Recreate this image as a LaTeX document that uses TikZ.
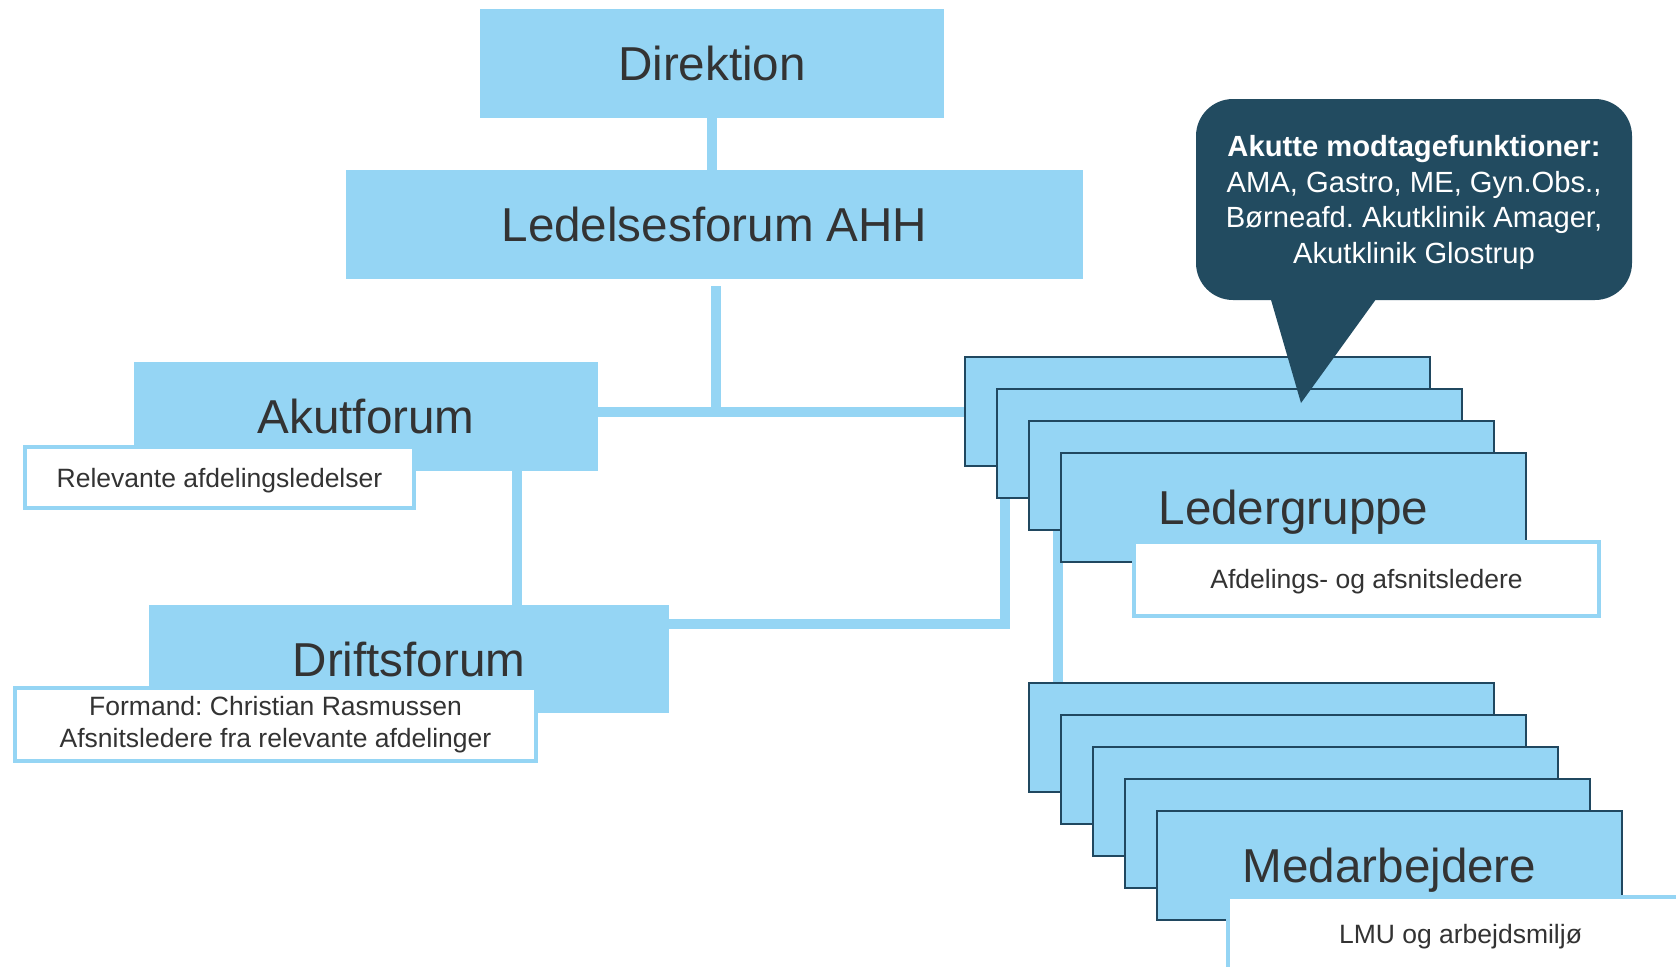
\documentclass[tikz,border=0pt]{standalone}
\usepackage{fontspec}
\setmainfont{Liberation Sans}
\usetikzlibrary{backgrounds}
\definecolor{boxblue}{RGB}{149,213,244}
\definecolor{stackline}{RGB}{32,72,96}
\definecolor{calloutblue}{RGB}{34,75,96}
\definecolor{textgray}{RGB}{51,51,51}
\frenchspacing
\begin{document}
\begin{tikzpicture}[x=0.5pt,y=-0.5pt,
    mainbox/.style={fill=boxblue,inner sep=0pt,text=textgray,text height=17pt,text depth=0pt,font=\fontsize{23.8}{28}\selectfont},
    stackbox/.style={mainbox,draw=stackline,line width=1pt,minimum width=232.5pt,minimum height=54.5pt},
    infobox/.style={fill=white,draw=boxblue,line width=1.75pt,inner sep=0pt,text=textgray,align=center,font=\fontsize{13.25}{16}\selectfont},
    oneline/.style={text height=9.5pt,text depth=0pt},
    link/.style={draw=boxblue,line width=5pt}]
    \useasboundingbox (0,0) rectangle (1676,966);
    \clip (0,0) rectangle (1676,966);
    % ledelse
    \node[mainbox,minimum width=232pt,minimum height=54.5pt] (direktion) at (712,63.5) {Direktion};
    \node[mainbox,minimum width=368.5pt,minimum height=54.5pt] (ledelse) at (714.5,224.5) {Ledelsesforum AHH};
    % fora
    \node[mainbox,minimum width=232pt,minimum height=54.5pt] (akut) at (366,416.5) {Akutforum};
    \node[infobox,oneline,minimum width=194.5pt,minimum height=30.5pt] (akutinfo) at (219.5,477.5) {Relevante afdelingsledelser};
    \node[mainbox,minimum width=260pt,minimum height=54pt] (drifts) at (409,659) {Driftsforum};
    \node[infobox,minimum width=260.5pt,minimum height=36.5pt] (driftsinfo) at (275.5,724.5) {Formand: Christian Rasmussen\\Afsnitsledere fra relevante afdelinger};
    % ledergrupper
    \foreach \i in {0,1,2}{\node[stackbox] (lg\i) at ({1197.5+32*\i},{411.5+32*\i}) {};}
    \node[stackbox] (lg3) at (1293.5,507.5) {Ledergruppe};
    \node[infobox,oneline,minimum width=232.5pt,minimum height=37pt] (lginfo) at (1366.5,579) {Afdelings- og afsnitsledere};
    % medarbejdere
    \foreach \i in {0,...,3}{\node[stackbox] (md\i) at ({1261.5+32*\i},{737.5+32*\i}) {};}
    \node[stackbox] (md4) at (1389.5,865.5) {Medarbejdere};
    \node[infobox,oneline,minimum width=232.5pt,minimum height=37pt] (mdinfo) at (1460.5,934) {LMU og arbejdsmiljø};
    % callout
    \node[fill=calloutblue,rounded corners=18.5pt,minimum width=218pt,minimum height=100.5pt,text=white,align=center,text depth=0pt,font=\fontsize{14.6}{17.7}\selectfont] (callout) at (1414,199.5) {\textbf{Akutte modtagefunktioner:}\\AMA, Gastro, ME, Gyn.Obs.,\\Børneafd. Akutklinik Amager,\\Akutklinik Glostrup};
    \coordinate (tip) at (1301,403);
    \fill[calloutblue] ([xshift=-72pt,yshift=2pt]callout.south) -- (tip) -- ([xshift=-18pt,yshift=2pt]callout.south) -- cycle;
    % forbindelser
    \begin{pgfonlayer}{background}
    \coordinate (j1) at (716,412);
    \coordinate (j2) at (1005,624);
    \coordinate (akutdrop) at (517,540);
    \coordinate (lgdrop) at (1058,600);
    \draw[link] (direktion.south) -- (direktion.south |- ledelse.north);
    \draw[link,shorten <=3.5pt] (ledelse.south -| j1) -- (j1);
    \draw[link] (akut.east |- j1) -- (lg0.west |- j1);
    \draw[link] (akut.south -| akutdrop) -- (drifts.north -| akutdrop);
    \draw[link] (drifts.east |- j2) -- (j2) -- (lg1.south -| j2);
    \draw[link] (lg2.south -| lgdrop) -- (md0.north -| lgdrop);
    \end{pgfonlayer}
\end{tikzpicture}
\end{document}
